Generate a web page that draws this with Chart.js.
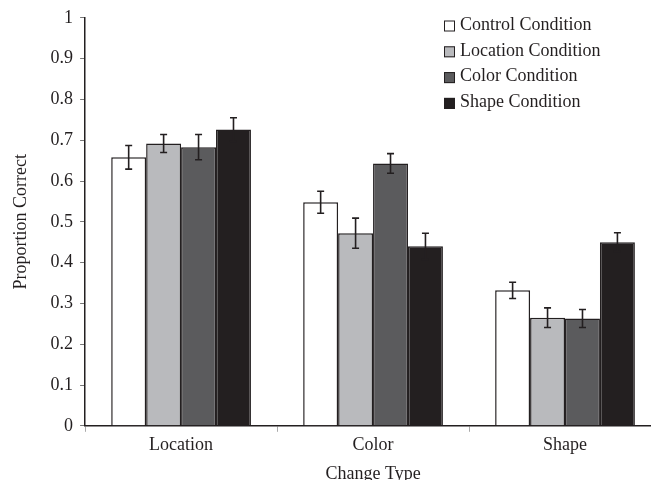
<!DOCTYPE html>
<html>
<head>
<meta charset="utf-8">
<script src="https://cdn.jsdelivr.net/npm/chart.js@4.4.1/dist/chart.umd.min.js"></script>
<style>
  html, body { margin: 0; padding: 0; background: #fff; overflow: hidden; }
  #wrap { width: 661px; height: 485px; }
</style>
</head>
<body>
<div id="wrap"><canvas id="chart"></canvas></div>
<script>
const categories = ['Location', 'Color', 'Shape'];
const seriesNames = ['Control Condition', 'Location Condition', 'Color Condition', 'Shape Condition'];
const controlVals = [0.658, 0.548, 0.332];
const locationVals = [0.692, 0.472, 0.265];
const colorVals = [0.683, 0.643, 0.263];
const shapeVals = [0.726, 0.440, 0.450];
const controlErr = [0.029, 0.027, 0.020];
const locationErr = [0.022, 0.037, 0.024];
const colorErr = [0.031, 0.024, 0.022];
const shapeErr = [0.029, 0.032, 0.023];
const yTicks = [0, 0.1, 0.2, 0.3, 0.4, 0.5, 0.6, 0.7, 0.8, 0.9, 1];

const ink = '#231f20';
const fills = ['#ffffff', '#b9babd', '#5b5b5d', '#231f20'];
const values = [controlVals, locationVals, colorVals, shapeVals];
const errors = [controlErr, locationErr, colorErr, shapeErr];
const serif = '"Liberation Serif", "DejaVu Serif", serif';

// error bars drawn through the scales
const errorBars = {
    id: 'errorBars',
    afterDatasetsDraw(chart) {
        const ctx = chart.ctx;
        const y = chart.scales.y;
        ctx.save();
        ctx.strokeStyle = ink;
        ctx.lineWidth = 1.6;
        chart.data.datasets.forEach((ds, i) => {
            const meta = chart.getDatasetMeta(i);
            meta.data.forEach((bar, j) => {
                const v = ds.data[j];
                const e = errors[i][j];
                const top = y.getPixelForValue(v + e);
                const bot = y.getPixelForValue(v - e);
                const x = bar.x;
                ctx.beginPath();
                ctx.moveTo(x, top); ctx.lineTo(x, bot);
                ctx.moveTo(x - 3.5, top); ctx.lineTo(x + 3.5, top);
                ctx.moveTo(x - 3.5, bot); ctx.lineTo(x + 3.5, bot);
                ctx.stroke();
            });
        });
        ctx.restore();
    }
};

// legend inside the plot, top right
const boxLegend = {
    id: 'boxLegend',
    afterDraw(chart) {
        const ctx = chart.ctx;
        ctx.save();
        ctx.font = '18px ' + serif;
        ctx.textBaseline = 'middle';
        chart.data.datasets.forEach((ds, i) => {
            const yy = 25 + i * 25.8;
            ctx.fillStyle = ds.backgroundColor;
            ctx.fillRect(444, yy - 4.5, 11, 11);
            ctx.strokeStyle = ink;
            ctx.lineWidth = 1;
            ctx.strokeRect(444.5, yy - 4, 10, 10);
            ctx.fillStyle = ink;
            ctx.fillText(ds.label, 460, yy);
        });
        ctx.restore();
    }
};

new Chart(document.getElementById('chart'), {
    type: 'bar',
    data: {
        labels: categories,
        datasets: seriesNames.map((name, i) => ({
            label: name,
            data: values[i],
            backgroundColor: fills[i],
            borderColor: ink,
            borderWidth: 1.5,
            borderSkipped: 'bottom',
            categoryPercentage: 0.728,
            barPercentage: 1
        }))
    },
    options: {
        responsive: true,
        maintainAspectRatio: false,
        animation: false,
        layout: { padding: { top: 9, right: 0, left: 10, bottom: 0 } },
        plugins: {
            legend: { display: false },
            tooltip: { enabled: false }
        },
        scales: {
            x: {
                grid: {
                    drawOnChartArea: false,
                    drawTicks: true,
                    tickLength: 6,
                    color: '#aaa',
                    offset: true
                },
                border: { color: ink, width: 1.5 },
                ticks: { color: ink, font: { family: serif, size: 18 }, padding: 3 },
                title: {
                    display: true,
                    text: 'Change Type',
                    color: ink,
                    font: { family: serif, size: 18 },
                    padding: { top: 4, bottom: 0 }
                }
            },
            y: {
                min: 0,
                max: 1,
                afterBuildTicks(axis) { axis.ticks = yTicks.map(v => ({ value: v })); },
                grid: {
                    drawOnChartArea: false,
                    drawTicks: true,
                    tickLength: 5,
                    color: '#777'
                },
                border: { color: ink, width: 1.5 },
                ticks: {
                    color: ink,
                    font: { family: serif, size: 18 },
                    padding: 7,
                    callback: v => String(Math.round(v * 10) / 10)
                },
                title: {
                    display: true,
                    text: 'Proportion Correct',
                    color: ink,
                    font: { family: serif, size: 18 },
                    padding: { top: 0, bottom: 12 }
                }
            }
        }
    },
    plugins: [errorBars, boxLegend]
});
</script>
</body>
</html>
